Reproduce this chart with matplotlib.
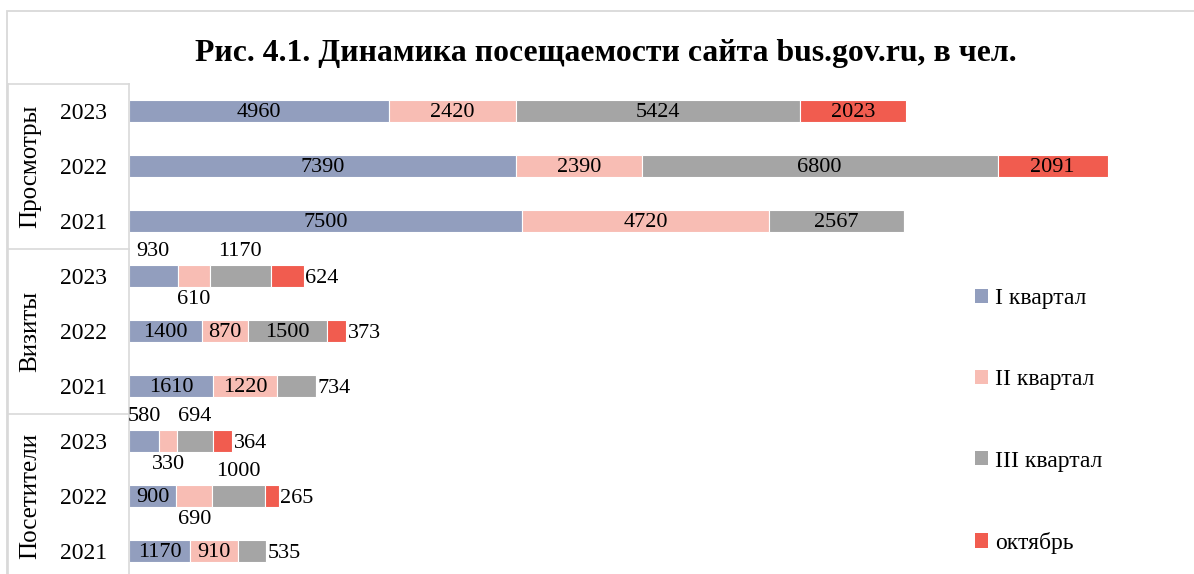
"""Рис. 4.1 — динамика посещаемости сайта bus.gov.ru"""
import matplotlib
matplotlib.use('Agg')
import matplotlib.pyplot as plt
from matplotlib.patches import Patch, Rectangle
import numpy as np

plt.rcParams['font.family'] = ['Liberation Serif', 'DejaVu Serif']

# данные (строки сверху вниз)
groups = ['Просмотры', 'Визиты', 'Посетители']
years = ['2023', '2022', '2021']
series = ['I квартал', 'II квартал', 'III квартал', 'октябрь']
q1 = [4960, 7390, 7500, 930, 1400, 1610, 580, 900, 1170]
q2 = [2420, 2390, 4720, 610, 870, 1220, 330, 690, 910]
q3 = [5424, 6800, 2567, 1170, 1500, 734, 694, 1000, 535]
octo = [2023, 2091, 0, 624, 373, 0, 364, 265, 0]

colors = ['#929EBE', '#F8BDB4', '#A5A5A5', '#F15C4F']

# где стоит подпись: c - в центре, a - сверху, b - снизу, r - справа
label_pos = [
    ['c', 'c', 'c', 'c'],
    ['c', 'c', 'c', 'c'],
    ['c', 'c', 'c', 'c'],
    ['a', 'b', 'a', 'r'],
    ['c', 'c', 'c', 'r'],
    ['c', 'c', 'r', 'r'],
    ['a', 'b', 'a', 'r'],
    ['c', 'b', 'a', 'r'],
    ['c', 'c', 'r', 'r'],
]

W, H = 1194, 574
fs = 16
fig = plt.figure(figsize=(W / 100, H / 100), dpi=100)
ax = fig.add_axes([129 / W, 0, (1130 - 129) / W, (H - 83.5) / H])

vals = np.array([q1, q2, q3, octo], dtype=float)
rows = np.arange(len(q1))
left = np.zeros(len(q1))
for i, name in enumerate(series):
    ax.barh(rows, vals[i], left=left, height=0.4, color=colors[i],
            edgecolor='white', linewidth=0.8, label=name)
    for r in rows:
        v = vals[i][r]
        if v <= 0:
            continue
        pos = label_pos[r][i]
        cx = left[r] + v / 2
        if pos == 'c':
            ax.annotate(f'{int(v)}', (cx, r), xytext=(0, -1), textcoords='offset points',
                        ha='center', va='center', fontsize=fs)
        elif pos == 'a':
            ax.annotate(f'{int(v)}', (cx, r), xytext=(0, 18), textcoords='offset points',
                        ha='center', va='center', fontsize=fs)
        elif pos == 'b':
            ax.annotate(f'{int(v)}', (cx, r), xytext=(0, -17), textcoords='offset points',
                        ha='center', va='center', fontsize=fs)
        else:
            end = left[r] + v
            ax.annotate(f'{int(v)}', (end, r), xytext=(1, -2), textcoords='offset points',
                        ha='left', va='center', fontsize=fs)
    left += vals[i]

ax.set_xlim(0, 19100)
ax.set_ylim(8.418, -0.5)
ax.set_xticks([])
ax.set_yticks(rows)
ax.set_yticklabels(years * 3, fontsize=17)
ax.tick_params(axis='y', length=0, pad=16)
for s in ['top', 'right', 'bottom']:
    ax.spines[s].set_visible(False)
ax.spines['left'].set_color('#D9D9D9')
ax.spines['left'].set_linewidth(1.2)

# разметка групп слева
tr = ax.get_yaxis_transform()
xl = (8 - 129) / (1130 - 129)
for y in [-0.5, 2.5, 5.5]:
    ax.plot([xl, 0], [y, y], color='#D9D9D9', lw=1.2, transform=tr, clip_on=False)
ax.plot([xl, xl], [-0.5, 8.6], color='#D9D9D9', lw=1.2, transform=tr, clip_on=False)
for g, name in enumerate(groups):
    ax.text((30 - 129) / (1130 - 129), g * 3 + 1, name, rotation=90, ha='center',
            va='center', fontsize=18, transform=tr)

# рамка диаграммы
fig.patches.append(Rectangle((7 / W, -0.1), 1.2, 1 - 11 / H + 0.1, transform=fig.transFigure,
                             fill=False, edgecolor='#D9D9D9', lw=1.3))

fig.text(606 / W, 1 - 54 / H, 'Рис. 4.1. Динамика посещаемости сайта bus.gov.ru, в чел.',
         ha='center', va='center', fontsize=22.9, fontweight='bold')

handles = [Patch(facecolor=c, edgecolor='none') for c in colors]
fig.legend(handles, series, loc='upper left', bbox_to_anchor=(954 / W, 1 - 267 / H),
           frameon=False, fontsize=17, handlelength=0.55, handleheight=0.55,
           handletextpad=0.3, labelspacing=2.55)

plt.savefig('out.png', dpi=100)
